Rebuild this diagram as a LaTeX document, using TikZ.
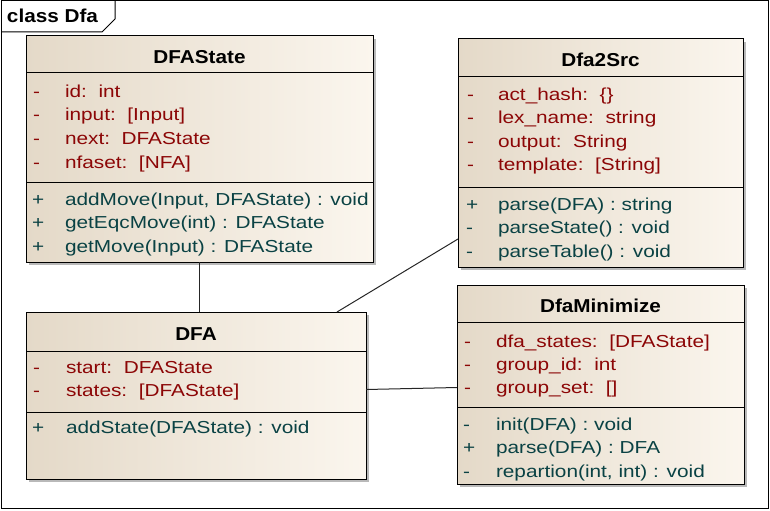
\documentclass[tikz,border=0pt]{standalone}
\usepackage{fontspec}
\setmainfont{Liberation Sans}[FakeStretch=1.2]
\newfontfamily\headfont{Liberation Sans}[FakeStretch=1.11]
\usepackage{xcolor}
\usepackage{tikz}
\usetikzlibrary{
  positioning,
  calc,
  shadows,
}
\definecolor{attrred}{RGB}{140,6,6}
\definecolor{methteal}{RGB}{10,66,68}
\definecolor{boxleft}{RGB}{228,217,200}
\definecolor{boxright}{RGB}{251,246,238}

\begin{document}
\begin{tikzpicture}[
  x=0.75pt, y=-0.75pt,
  every node/.style={inner sep=0pt, outer sep=0pt},
  classbox/.style={
    rectangle, draw, line width=0.75pt, anchor=north west,
    left color=boxleft, right color=boxright,
    drop shadow={shadow xshift=2.5pt, shadow yshift=-2.5pt, fill=black!55, opacity=0.5},
  },
  classname/.style={font=\headfont\bfseries\fontsize{14pt}{16pt}\selectfont, anchor=base},
  attr/.style={font=\fontsize{13pt}{15pt}\selectfont, text=attrred, anchor=base west},
  meth/.style={font=\fontsize{13pt}{15pt}\selectfont, text=methteal, anchor=base west},
  divider/.style={line width=0.75pt},
  link/.style={line width=0.75pt, draw=black!85},
]
  \useasboundingbox (0,0) rectangle (770,510);

  % Frame
  \draw[line width=0.75pt] (1,1) rectangle (768,508);
  \draw[line width=0.75pt] (1,32) -- (102,32) -- (115,19) -- (115,1);
  \node[font=\headfont\bfseries\fontsize{14pt}{16pt}\selectfont, anchor=base west] (frametitle) at (7,23) {class Dfa};

  % Class boxes
  \node[classbox, minimum width=260.25pt, minimum height=169.5pt] (dfastate) at (26,36) {};
  \node[classbox, minimum width=213.75pt, minimum height=171pt] (dfa2src) at (458,39) {};
  \node[classbox, minimum width=255pt, minimum height=125.25pt] (dfa) at (26,312) {};
  \node[classbox, minimum width=215.25pt, minimum height=149.25pt] (dfaminimize) at (457,285) {};

  % Compartments
  \draw[divider] ($(dfastate.north west)+(0,37)$) -- ($(dfastate.north east)+(0,37)$);
  \draw[divider] ($(dfastate.north west)+(0,146)$) -- ($(dfastate.north east)+(0,146)$);
  \draw[divider] ($(dfa2src.north west)+(0,38)$) -- ($(dfa2src.north east)+(0,38)$);
  \draw[divider] ($(dfa2src.north west)+(0,148)$) -- ($(dfa2src.north east)+(0,148)$);
  \draw[divider] ($(dfa.north west)+(0,39)$) -- ($(dfa.north east)+(0,39)$);
  \draw[divider] ($(dfa.north west)+(0,100)$) -- ($(dfa.north east)+(0,100)$);
  \draw[divider] ($(dfaminimize.north west)+(0,37)$) -- ($(dfaminimize.north east)+(0,37)$);
  \draw[divider] ($(dfaminimize.north west)+(0,122)$) -- ($(dfaminimize.north east)+(0,122)$);

  % DFAState
  \node[classname] (dfastate-name) at (199.5,63.5) {DFAState};
  \foreach \txt [count=\i] in {{id:~~int}, {input:~~[Input]}, {next:~~DFAState}, {nfaset:~~[NFA]}} {
    \node[attr] (dfastate-av\i) at (33,97+23.8*\i-23.8) {-};
    \node[attr] (dfastate-a\i) at (65,97+23.8*\i-23.8) {\txt};
  }
  \foreach \txt [count=\i] in {{addMove(Input, DFAState) : void}, {getEqcMove(int) : DFAState}, {getMove(Input) : DFAState}} {
    \node[meth] (dfastate-mv\i) at (32,205+23.8*\i-23.8) {+};
    \node[meth] (dfastate-m\i) at (65,205+23.8*\i-23.8) {\txt};
  }

  % Dfa2Src
  \node[classname] (dfa2src-name) at (600.5,67) {Dfa2Src};
  \foreach \txt [count=\i] in {{act\_hash:~~\{\}}, {lex\_name:~~string}, {output:~~String}, {template:~~[String]}} {
    \node[attr] (dfa2src-av\i) at (467,100+23.5*\i-23.5) {-};
    \node[attr] (dfa2src-a\i) at (498,100+23.5*\i-23.5) {\txt};
  }
  \foreach \vis/\txt [count=\i] in {+/{parse(DFA) : string}, -/{parseState() : void}, -/{parseTable() : void}} {
    \node[meth] (dfa2src-mv\i) at (466,210+23.5*\i-23.5) {\vis};
    \node[meth] (dfa2src-m\i) at (498,210+23.5*\i-23.5) {\txt};
  }

  % DFA
  \node[classname] (dfa-name) at (196,340) {DFA};
  \foreach \txt [count=\i] in {{start:~~DFAState}, {states:~~[DFAState]}} {
    \node[attr] (dfa-av\i) at (33,373+23.5*\i-23.5) {-};
    \node[attr] (dfa-a\i) at (66,373+23.5*\i-23.5) {\txt};
  }
  \node[meth] (dfa-mv1) at (32,433) {+};
  \node[meth] (dfa-m1) at (66,433) {addState(DFAState) : void};

  % DfaMinimize
  \node[classname] (dfaminimize-name) at (600.5,312) {DfaMinimize};
  \foreach \txt [count=\i] in {{dfa\_states:~~[DFAState]}, {group\_id:~~int}, {group\_set:~~[]}} {
    \node[attr] (dfaminimize-av\i) at (464,347+23.2*\i-23.2) {-};
    \node[attr] (dfaminimize-a\i) at (496,347+23.2*\i-23.2) {\txt};
  }
  \foreach \vis/\txt [count=\i] in {-/{init(DFA) : void}, +/{parse(DFA) : DFA}, -/{repartion(int, int) : void}} {
    \node[meth] (dfaminimize-mv\i) at (463,430+23.5*\i-23.5) {\vis};
    \node[meth] (dfaminimize-m\i) at (496,430+23.5*\i-23.5) {\txt};
  }

  % Associations
  \draw[link] (dfastate.south) -- (dfastate.south |- dfa.north);
  \draw[link] ($(dfa.north east)+(-29,0)$) -- ($(dfa2src.south west)+(0,-28)$);
  \draw[link] ($(dfa.east)+(0,-6)$) -- ($(dfaminimize.west)+(0,3)$);

\end{tikzpicture}
\end{document}
